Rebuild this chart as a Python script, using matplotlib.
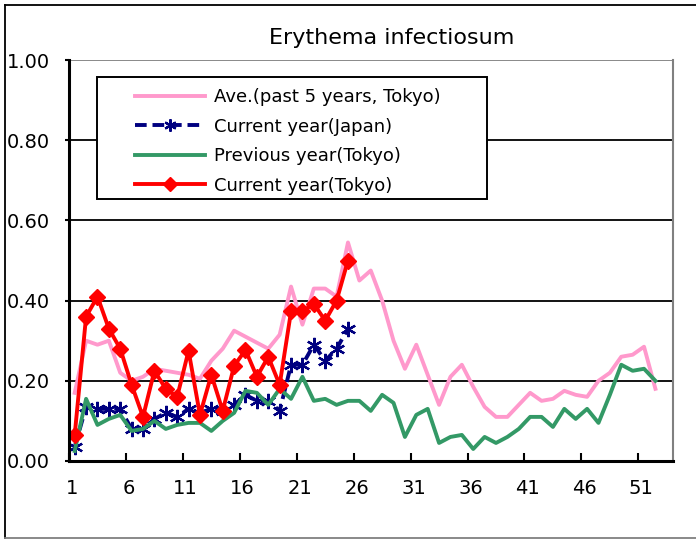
import matplotlib
matplotlib.use("Agg")
import matplotlib.pyplot as plt
from matplotlib.lines import Line2D

# weekly values (report per sentinel), weeks 1..53
weeks = list(range(1, 54))
ave_5yr_tokyo = [0.17, 0.30, 0.29, 0.30, 0.22, 0.20, 0.21, 0.23, 0.225, 0.22,
                 0.215, 0.205, 0.25, 0.28, 0.325, 0.31, 0.295, 0.28, 0.315, 0.435,
                 0.34, 0.43, 0.43, 0.41, 0.545, 0.45, 0.475, 0.40, 0.30, 0.23,
                 0.29, 0.215, 0.14, 0.21, 0.24, 0.185, 0.135, 0.11, 0.11, 0.14,
                 0.17, 0.15, 0.155, 0.175, 0.165, 0.16, 0.20, 0.22, 0.26, 0.265,
                 0.285, 0.18]
current_japan = [0.035, 0.135, 0.13, 0.13, 0.13, 0.08, 0.08, 0.105, 0.12, 0.11,
                 0.13, 0.12, 0.13, 0.125, 0.14, 0.165, 0.15, 0.15, 0.125, 0.24,
                 0.24, 0.29, 0.25, 0.28, 0.33]
previous_tokyo = [0.025, 0.155, 0.09, 0.105, 0.115, 0.075, 0.08, 0.10, 0.08, 0.09,
                  0.095, 0.095, 0.075, 0.10, 0.12, 0.175, 0.17, 0.14, 0.18, 0.155,
                  0.21, 0.15, 0.155, 0.14, 0.15, 0.15, 0.125, 0.165, 0.145, 0.06,
                  0.115, 0.13, 0.045, 0.06, 0.065, 0.03, 0.06, 0.045, 0.06, 0.08,
                  0.11, 0.11, 0.085, 0.13, 0.105, 0.13, 0.095, 0.165, 0.24, 0.225,
                  0.23, 0.20]
current_tokyo = [0.065, 0.36, 0.41, 0.33, 0.28, 0.19, 0.11, 0.225, 0.18, 0.16,
                 0.275, 0.115, 0.215, 0.125, 0.237, 0.277, 0.21, 0.26, 0.19, 0.373,
                 0.373, 0.392, 0.35, 0.40, 0.50]
x_labels = ["1", "6", "11", "16", "21", "26", "31", "36", "41", "46", "51"]

W, H = 696, 539
fig = plt.figure(figsize=(W / 100, H / 100), dpi=100)
ax = fig.add_axes([69 / W, 1 - 461 / H, (672.5 - 69) / W, (461 - 60) / H])

ax.plot(weeks[:len(ave_5yr_tokyo)], ave_5yr_tokyo, color="#FF99CC", lw=2.8,
        label="Ave.(past 5 years, Tokyo)")
ax.plot(weeks[:len(current_japan)], current_japan, color="#000080", lw=2.8,
        dashes=(3, 1.5), marker=(6, 2, 0), ms=11, mew=1.6,
        label="Current year(Japan)")
ax.plot(weeks[:len(previous_tokyo)], previous_tokyo, color="#339966", lw=2.8,
        label="Previous year(Tokyo)")
ax.plot(weeks[:len(current_tokyo)], current_tokyo, color="#FF0000", lw=2.8,
        marker="D", ms=8.5, label="Current year(Tokyo)")

ax.set_xlim(0.5, 53.5)
ax.set_ylim(0, 1)

# tick marks between categories, labels a little right of them
tick_pos = [int(s) - 0.5 for s in x_labels]
ax.set_xticks(tick_pos)
ax.set_xticklabels([])
ax.set_xticks([int(s) - 0.25 for s in x_labels], minor=True)
ax.set_xticklabels(x_labels, minor=True)
ax.tick_params(axis="x", which="major", direction="in", length=5.5, width=1.5)
ax.tick_params(axis="x", which="minor", length=0, pad=13, labelsize=14)

ax.set_yticks([0, 0.2, 0.4, 0.6, 0.8, 1.0])
ax.set_yticklabels([f"{v:.2f}" for v in [0, 0.2, 0.4, 0.6, 0.8, 1.0]])
ax.tick_params(axis="y", direction="out", length=3, width=1.5, pad=11,
               labelsize=14)

for v in [0.2, 0.4, 0.6, 0.8]:
    ax.axhline(v, color="black", lw=1.3, zorder=0.5)
ax.axhline(1.0, color="#808080", lw=1.3, zorder=0.5)

ax.spines["left"].set_linewidth(2.2)
ax.spines["bottom"].set_linewidth(2.2)
ax.spines["top"].set_visible(False)
ax.spines["right"].set_color("#808080")
ax.spines["right"].set_linewidth(1.5)

fig.text(392 / W, 1 - 38 / H, "Erythema infectiosum", ha="center", va="center",
         fontsize=16)

leg = ax.legend(loc="upper left", bbox_to_anchor=(135 / W, 1 - 88 / H),
                bbox_transform=fig.transFigure, frameon=False, fontsize=13,
                borderpad=0, borderaxespad=0, handlelength=3.9,
                handletextpad=0.45, labelspacing=0.64, numpoints=1,
                markerscale=0.8)
leg.set_zorder(5)

# legend box, drawn inside the axes so the legend sits on top of it
ax.add_patch(plt.Rectangle((97 / W, 1 - 199 / H), (487 - 97) / W, (199 - 77) / H,
                           transform=fig.transFigure, clip_on=False,
                           facecolor="white", edgecolor="black", lw=1.4,
                           zorder=1.5))

# chart-area frame
fig.add_artist(Line2D([5 / W, 1], [1 - 5 / H, 1 - 5 / H], color="black", lw=1.3))
fig.add_artist(Line2D([5 / W, 5 / W], [1 - 5 / H, 1 - 538 / H], color="black", lw=1.3))
fig.add_artist(Line2D([5 / W, 1], [1 - 538 / H, 1 - 538 / H], color="#808080", lw=1.3))

fig.savefig("out.png", dpi=100)
